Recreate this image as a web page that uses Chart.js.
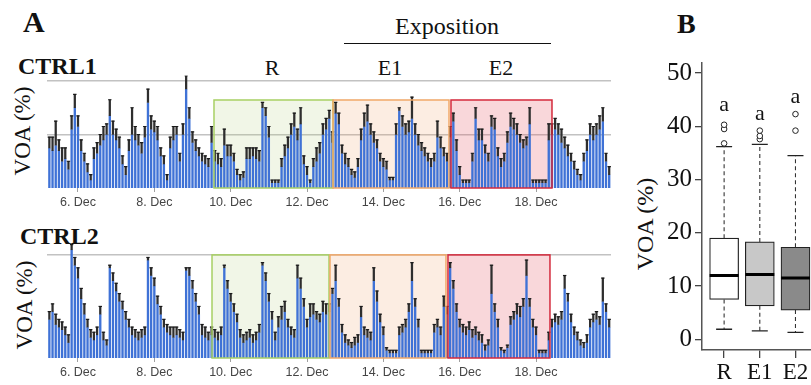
<!DOCTYPE html>
<html><head><meta charset="utf-8">
<script src="https://cdn.jsdelivr.net/npm/chart.js@4"></script>
<style>
html,body{margin:0;padding:0;background:#fff;}
body{width:811px;height:385px;overflow:hidden;position:relative;color:#111;}
.t,.rot{font-family:'Liberation Serif','Times New Roman',Times,serif;color:#111;}
.t{position:absolute;white-space:nowrap;line-height:1;}
.rot{position:absolute;white-space:nowrap;line-height:1;transform:translate(-50%,-50%) rotate(-90deg);}
canvas{position:absolute;}
</style></head><body>

<div class="t" style="left:23px;top:7px;font-size:30px;font-weight:bold;">A</div>
<div class="t" style="left:677px;top:10px;font-size:28px;font-weight:bold;">B</div>
<div class="t" style="left:18px;top:54px;font-size:24px;font-weight:bold;">CTRL1</div>
<div class="t" style="left:20px;top:224px;font-size:24px;font-weight:bold;">CTRL2</div>
<div class="t" style="left:347px;top:14px;width:200px;text-align:center;font-size:24px;">Exposition</div>
<div style="position:absolute;left:344px;top:43px;width:207px;border-top:1.5px solid #111;"></div>
<div class="t" style="left:242px;top:57px;width:60px;text-align:center;font-size:22px;">R</div>
<div class="t" style="left:360px;top:57px;width:60px;text-align:center;font-size:22px;">E1</div>
<div class="t" style="left:471px;top:57px;width:60px;text-align:center;font-size:22px;">E2</div>
<div class="rot" style="left:22px;top:131px;font-size:23px;">VOA (%)</div>
<div class="rot" style="left:24px;top:305px;font-size:23px;">VOA (%)</div>
<div class="rot" style="left:645px;top:224px;font-size:24px;">VOA (%)</div>

<canvas id="cA1" width="620" height="140" style="left:0;top:70px;"></canvas>
<canvas id="cA2" width="620" height="145" style="left:0;top:235px;"></canvas>
<canvas id="cB" width="240" height="385" style="left:620px;top:0;"></canvas>

<script>
// ---------- Panel A data (2-hourly bars, x in days of December) ----------
const firstBarDay = 5.25;
const barStepDays = 1 / 12;
const tickDays = [6, 8, 10, 12, 14, 16, 18];
const tickLabels = ["6. Dec", "8. Dec", "10. Dec", "12. Dec", "14. Dec", "16. Dec", "18. Dec"];

const ctrl1Values = [
15,14,16,14,10,11,7,22,30,23,
14,10,6,3,11,13,16,18,20,27,
20,18,15,9,5,14,20,18,16,13,
19,32,22,21,18,12,9,3,15,18,
20,10,20,37,26,17,14,12,10,9,
8,17,10,9,8,16,12,12,10,5,
3,4,11,11,12,11,10,30,27,19,
2,2,2,8,12,15,20,23,18,24,
9,5,2,8,10,13,20,22,26,17,
28,24,13,9,8,5,4,8,18,23,
25,20,17,15,10,8,7,3,3,20,
29,23,20,21,26,20,16,14,12,10,
8,10,19,15,12,10,19,25,14,5,
2,2,2,10,26,18,18,13,10,23,
22,12,8,10,17,23,22,20,17,15,
16,24,2,2,2,2,2,18,20,22,
20,17,15,12,10,7,5,3,10,14,
20,18,20,22,25,10,5];
const ctrl1Errors = [
4,5,9,4,5,4,3,5,5,4,
4,3,3,2,4,4,4,5,4,6,
5,4,4,3,3,4,10,5,4,4,
4,5,5,4,5,3,3,2,4,5,
3,3,4,5,4,4,4,3,3,3,
3,6,4,4,3,6,4,4,3,2,
2,2,4,4,3,4,4,2,3,4,
1,1,1,3,4,4,4,5,4,6,
3,3,1,3,5,4,4,4,3,4,
4,4,3,4,3,2,2,3,4,5,
6,4,4,3,3,3,3,1,1,4,
1,4,4,4,8,4,4,3,3,3,
3,3,6,4,3,3,4,3,4,3,
1,1,1,3,4,4,4,3,3,4,
4,3,3,3,4,5,4,4,3,3,
3,6,1,1,1,1,1,6,4,4,
4,5,4,4,3,3,2,2,3,4,
4,5,4,5,5,3,3];

const ctrl2Values = [
15,18,13,12,11,9,6,42,36,31,
23,17,12,8,7,9,17,7,5,35,
30,26,22,19,15,12,9,8,7,8,
9,38,32,28,21,17,12,10,9,8,
9,8,7,34,32,27,22,17,9,8,
7,9,8,7,9,35,27,22,18,14,
8,6,7,8,6,7,10,36,30,22,
15,7,12,15,18,12,9,8,31,27,
20,12,16,17,15,14,18,17,18,25,
30,20,10,6,5,4,5,6,16,9,
8,7,30,22,14,9,3,2,2,2,
9,10,12,18,30,20,12,2,2,2,
2,10,12,9,20,17,35,27,18,12,
10,9,11,8,9,7,6,3,5,25,
18,12,3,2,4,13,15,17,16,20,
32,20,12,9,2,2,2,7,12,14,
13,15,27,22,14,9,7,5,4,6,
12,14,15,13,22,18,12];
const ctrl2Errors = [
3,3,4,3,3,3,3,2,3,4,
4,4,3,3,3,3,3,3,2,1,
3,3,3,3,3,3,3,3,3,3,
3,1,3,3,3,3,3,3,3,4,
3,3,3,1,3,3,3,3,4,4,
3,3,3,3,3,1,3,3,3,3,
3,3,3,3,3,3,3,1,3,3,
3,3,4,5,4,3,3,3,5,4,
3,3,5,4,3,3,4,4,3,2,
6,3,3,3,2,2,3,3,4,3,
3,3,5,4,3,3,1,1,1,1,
3,3,3,3,7,3,3,1,1,1,
1,3,3,3,4,3,2,3,3,3,
3,3,3,3,3,3,3,2,2,11,
3,3,1,1,1,3,3,4,4,3,
6,3,3,3,1,1,1,3,3,3,
3,3,5,3,3,3,3,2,2,3,
3,3,3,3,9,3,3];

const periodNames = ["R", "E1", "E2"];
const ctrl1PeriodStart = [9.563, 12.681, 15.772];
const ctrl1PeriodEnd   = [12.681, 15.720, 18.418];
const ctrl1PeriodTop   = [32.9, 32.9, 32.9];
const ctrl2PeriodStart = [9.511, 12.602, 15.693];
const ctrl2PeriodEnd   = [12.576, 15.641, 18.365];
const ctrl2PeriodTop   = [40, 40, 40];

// ---------- Panel B data (box plot) ----------
const groups = ["R", "E1", "E2"];
const whiskerLow  = [1.9, 1.6, 1.3];
const q1          = [7.5, 6.3, 5.5];
const median      = [12.0, 12.2, 11.5];
const q3          = [19.0, 18.3, 17.3];
const whiskerHigh = [36.2, 36.6, 34.5];
const outliersR  = [36.8, 39.5, 40.3];
const outliersE1 = [37.6, 38.2, 39.2];
const outliersE2 = [39.2, 42.3];
const sigLetters = ["a", "a", "a"];
const sigLetterY = [42.8, 41.2, 44.4];

// ---------- styles ----------
const periodFill   = ["rgba(175,205,120,0.18)", "rgba(240,155,95,0.18)", "rgba(231,87,99,0.24)"];
const periodStroke = ["#a8d064", "#f0a868", "#d42a3c"];
const axisFontA = { family: "'Liberation Sans',Arial,sans-serif", size: 12.5 };
const serif = "'Liberation Serif','Times New Roman',Times,serif";

const barDays = ctrl1Values.map((_, i) => firstBarDay + i * barStepDays);

const periodPlugin = {
  id: 'periods',
  beforeDatasetsDraw(chart, args, o) {
    const { ctx, scales: { x, y } } = chart;
    ctx.save();
    o.start.forEach((s, k) => {
      const x0 = x.getPixelForValue(s), x1 = x.getPixelForValue(o.end[k]);
      const y0 = y.getPixelForValue(o.top[k]), y1 = y.getPixelForValue(0);
      ctx.fillStyle = periodFill[k];
      ctx.fillRect(x0, y0, x1 - x0, y1 - y0);
    });
    ctx.restore();
  },
  afterDatasetsDraw(chart, args, o) {
    const { ctx, scales: { x, y } } = chart;
    ctx.save();
    ctx.lineWidth = 1.5;
    o.start.forEach((s, k) => {
      const x0 = x.getPixelForValue(s), x1 = x.getPixelForValue(o.end[k]);
      const y0 = y.getPixelForValue(o.top[k]), y1 = y.getPixelForValue(0);
      ctx.strokeStyle = periodStroke[k];
      ctx.strokeRect(x0, y0, x1 - x0, y1 - y0);
    });
    ctx.restore();
  }
};

function makeA(canvasId, values, errors, pStart, pEnd, pTop, yMax, gridVals, padTop) {
  return new Chart(document.getElementById(canvasId), {
    type: 'bar',
    data: {
      datasets: [
        { type: 'scatter', data: values.map((v, i) => ({ x: barDays[i], y: v + errors[i] })),
          pointStyle: 'line', radius: 1.7, borderWidth: 1.2, borderColor: '#1a1a1a', hoverRadius: 1.7 },
        { data: values.map((v, i) => ({ x: barDays[i], y: [v, v + errors[i]] })),
          backgroundColor: '#2e2e2e', barThickness: 1.6, grouped: false },
        { data: values.map((v, i) => ({ x: barDays[i], y: v })),
          backgroundColor: '#3f72d6', borderWidth: 0,
          barPercentage: 0.74, categoryPercentage: 1, grouped: false }
      ]
    },
    options: {
      responsive: false, animation: false,
      layout: { padding: { left: 47, right: 9, top: padTop, bottom: 0 } },
      plugins: { legend: { display: false }, tooltip: { enabled: false },
        periods: { start: pStart, end: pEnd, top: pTop } },
      scales: {
        x: { type: 'linear', min: 5.188, max: 19.964, offset: false,
          grid: { drawOnChartArea: false, offset: false, tickLength: 4, color: '#a0a0a0' },
          border: { display: false },
          afterBuildTicks: s => { s.ticks = tickDays.map(v => ({ value: v })); },
          ticks: { autoSkip: false, maxRotation: 0, padding: 3, color: '#454545', font: axisFontA,
            callback: v => tickLabels[tickDays.indexOf(v)] },
          afterFit: s => { s.height = 22; } },
        y: { min: 0, max: yMax,
          afterBuildTicks: s => { s.ticks = gridVals.map(v => ({ value: v })); },
          ticks: { display: false },
          grid: { drawTicks: false, color: '#c2c2c2', lineWidth: 1.6 },
          border: { display: false },
          afterFit: s => { s.width = 0; } }
      }
    },
    plugins: [periodPlugin]
  });
}

makeA('cA1', ctrl1Values, ctrl1Errors, ctrl1PeriodStart, ctrl1PeriodEnd, ctrl1PeriodTop, 42, [20, 40], 5.65);
makeA('cA2', ctrl2Values, ctrl2Errors, ctrl2PeriodStart, ctrl2PeriodEnd, ctrl2PeriodTop, 45, [40], 7);

// ---------- Panel B ----------
const letterPlugin = {
  id: 'letters',
  afterDatasetsDraw(chart) {
    const { ctx, scales: { x, y } } = chart;
    ctx.save();
    ctx.font = "22px " + serif;
    ctx.fillStyle = '#111';
    ctx.textAlign = 'center';
    ctx.textBaseline = 'alphabetic';
    sigLetters.forEach((t, k) => ctx.fillText(t, x.getPixelForValue(k + 1), y.getPixelForValue(sigLetterY[k])));
    ctx.restore();
  }
};

const whiskerData = [];
groups.forEach((g, k) => {
  whiskerData.push({ x: k + 1, y: q3[k] }, { x: k + 1, y: whiskerHigh[k] }, { x: k + 1, y: null });
  whiskerData.push({ x: k + 1, y: q1[k] }, { x: k + 1, y: whiskerLow[k] }, { x: k + 1, y: null });
});
const capData = [];
groups.forEach((g, k) => { capData.push({ x: k + 1, y: whiskerHigh[k] }, { x: k + 1, y: whiskerLow[k] }); });
const outlierData = [
  ...outliersR.map(v => ({ x: 1, y: v })),
  ...outliersE1.map(v => ({ x: 2, y: v })),
  ...outliersE2.map(v => ({ x: 3, y: v }))
];

new Chart(document.getElementById('cB'), {
  type: 'bar',
  data: {
    datasets: [
      { type: 'scatter', data: outlierData, pointStyle: 'circle', radius: 2.8, borderWidth: 1,
        borderColor: '#222', backgroundColor: '#fff' },
      { type: 'scatter', data: median.map((v, k) => ({ x: k + 1, y: v })), pointStyle: 'line',
        radius: 14.5, borderWidth: 3, borderColor: '#000' },
      { type: 'scatter', data: capData, pointStyle: 'line', radius: 8, borderWidth: 1.3, borderColor: '#222' },
      { type: 'line', data: whiskerData, borderColor: '#333', borderWidth: 1.1, borderDash: [4, 3],
        pointRadius: 0, spanGaps: false },
      { data: groups.map((g, k) => ({ x: k + 1, y: [q1[k], q3[k]] })),
        backgroundColor: ['#ffffff', '#c8c8c8', '#8a8a8a'], borderColor: '#222', borderWidth: 1.2,
        borderSkipped: false, barThickness: 29 }
    ]
  },
  options: {
    responsive: false, animation: false,
    layout: { padding: { left: 42, right: 42.4, top: 63, bottom: 0 } },
    plugins: { legend: { display: false }, tooltip: { enabled: false } },
    scales: {
      x: { type: 'linear', min: 0.38, max: 3.62, offset: false,
        grid: { drawOnChartArea: false, offset: false, tickLength: 8, color: '#444', lineWidth: 1.3 },
        border: { color: '#555', width: 1.5 },
        afterBuildTicks: s => { s.ticks = groups.map((g, k) => ({ value: k + 1 })); },
        ticks: { autoSkip: false, maxRotation: 0, padding: 1, color: '#111',
          font: { family: serif, size: 23 }, callback: v => groups[v - 1] },
        afterFit: s => { s.height = 35; } },
      y: { min: -2, max: 51.9,
        afterBuildTicks: s => { s.ticks = [0, 10, 20, 30, 40, 50].map(v => ({ value: v })); },
        ticks: { color: '#111', padding: 3, font: { family: serif, size: 25 } },
        grid: { drawOnChartArea: false, tickLength: 7, color: '#444', lineWidth: 1.3 },
        border: { color: '#555', width: 1.5 },
        afterFit: s => { s.width = 40; } }
    }
  },
  plugins: [letterPlugin]
});
</script>
</body></html>
